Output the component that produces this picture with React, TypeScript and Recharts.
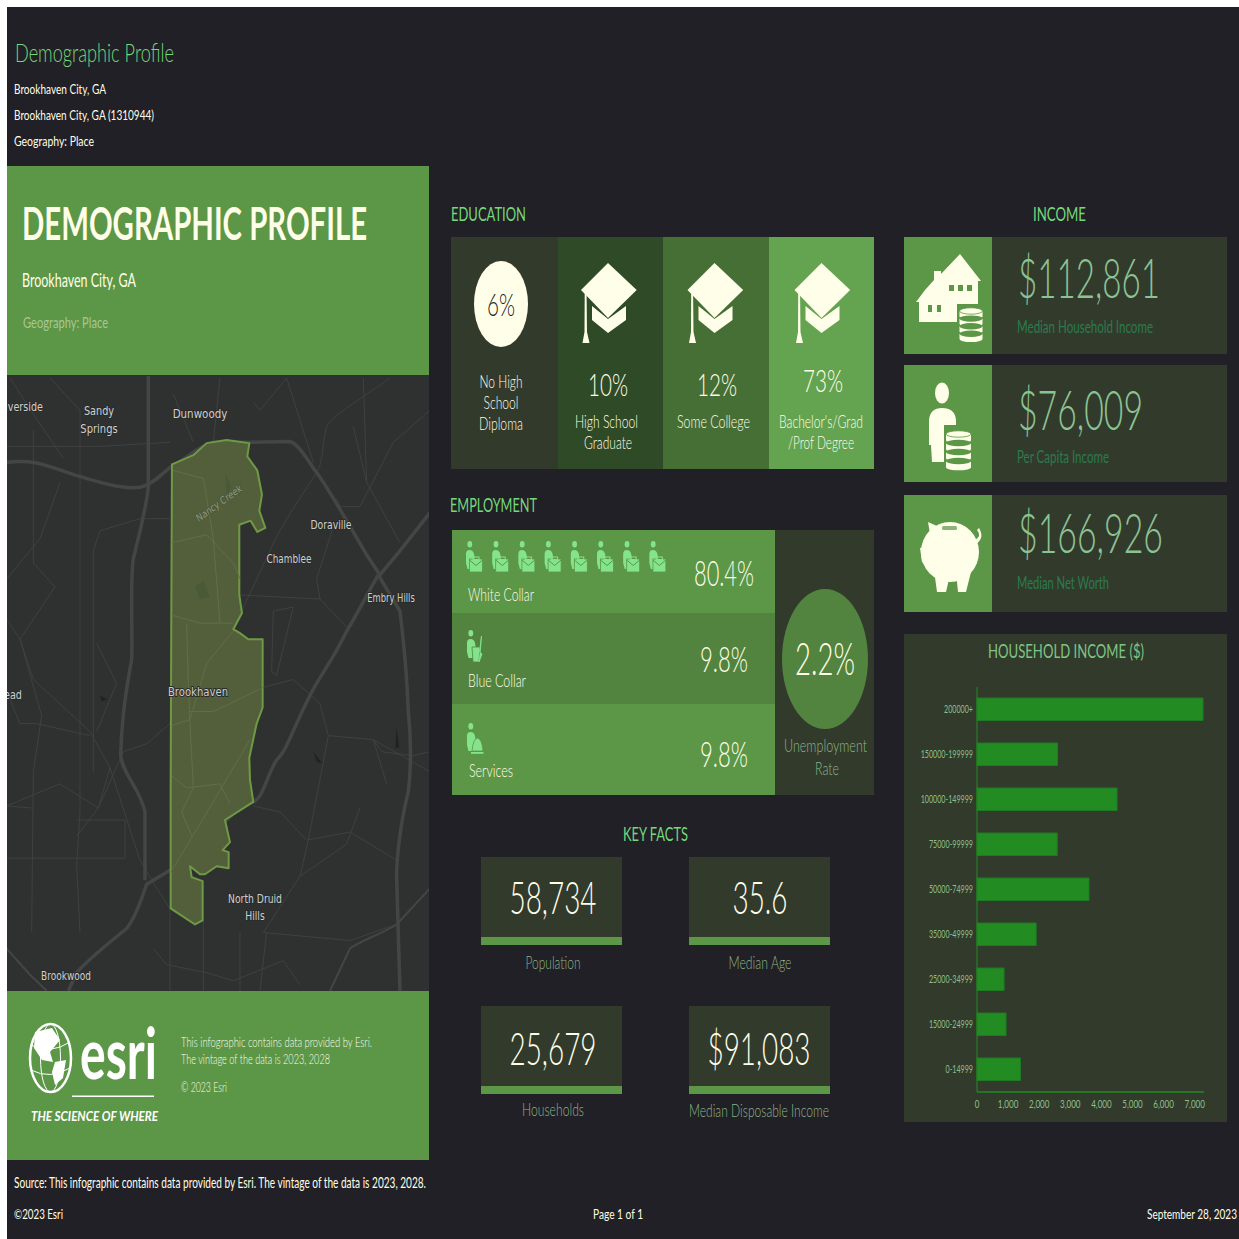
import React from 'react';
import { BarChart, Bar, XAxis, YAxis } from 'recharts';

const incomeBrackets = ['200000+', '150000-199999', '100000-149999', '75000-99999', '50000-74999', '35000-49999', '25000-34999', '15000-24999', '0-14999'];
const householdCounts = [7269, 2591, 4505, 2581, 3602, 1903, 871, 935, 1398];
const xTickValues = [0, 1000, 2000, 3000, 4000, 5000, 6000, 7000];

const educationPct = ['6%', '10%', '12%', '73%'];
const employmentPct = ['80.4%', '9.8%', '9.8%'];
const unemploymentPct = '2.2%';
const keyFactValues = ['58,734', '35.6', '25,679', '$91,083'];
const keyFactLabels = ['Population', 'Median Age', 'Households', 'Median Disposable Income'];
const incomeValues = ['$112,861', '$76,009', '$166,926'];
const incomeLabels = ['Median Household Income', 'Per Capita Income', 'Median Net Worth'];

const chartData = incomeBrackets.map((name, i) => ({ name, value: householdCounts[i] }));

const FONT = 'Lato, "Open Sans", sans-serif';
const BG = '#212026';
const PANEL = '#323a2c';
const GREEN = '#5c9647';
const CREAM = '#fffee8';
const TITLE = '#74d87c';
const MUTED = '#8db487';
const DEEP = '#2c7a4c';

const Txt = ({ x, y, w, size, fill = CREAM, anchor = 'start', weight, style, children }: any) => (
  <text x={x} y={y} fontSize={size} fill={fill} textAnchor={anchor} fontWeight={weight ?? (size < 17 ? 400 : 300)} fontFamily={FONT}
    textLength={w} lengthAdjust="spacingAndGlyphs" style={style}>{children}</text>
);

// map is traced in the zoomed crop's pixels, then scaled down
const mapMajor = [
  'M20,230 C100,222 130,235 220,260 C300,280 370,298 420,292 C460,285 490,255 515,240 C560,222 590,190 640,180 L750,180 L870,178 C900,185 930,235 950,255 C990,300 1050,390 1100,460 L1140,510 L1200,450 L1290,355',
  'M445,15 L445,290 C440,340 420,400 400,470 C390,520 398,650 395,720 C385,770 365,840 362,960 C370,1010 420,1040 435,1100 L435,1270',
  'M1135,510 C1100,560 1070,610 1040,650 C1000,720 960,760 930,810 C880,890 860,950 830,970 C800,1010 790,1065 760,1075 C720,1085 700,1105 680,1120 C620,1170 570,1210 520,1240 L440,1280 C420,1330 400,1370 380,1390 C320,1430 260,1470 230,1500 L205,1545',
  'M1135,510 L1200,600 C1215,700 1222,780 1225,850 C1235,930 1232,1000 1225,1050 C1200,1130 1190,1220 1190,1260 L1200,1545',
  'M1290,1290 L1190,1380 C1130,1410 1080,1420 1050,1440 L990,1545',
  'M20,1440 L90,1505 L140,1545',
];
const mapMinor = [
  'M1170,20 C1080,75 1000,110 980,140 C965,190 970,230 950,255 C900,320 840,390 810,450 L725,600',
  'M240,100 L240,1100 L230,1230 L240,1400',
  'M100,150 L100,480 L165,540 L60,670 L125,860 L100,1000 L95,1400',
  'M20,190 L300,190 L510,180',
  'M20,620 L60,670 L100,770 L270,900 L330,990 L295,1090 L180,1030 L20,1085',
  'M20,1085 L95,1090 M230,1120 L375,1120 L375,1215 L20,1215',
  'M510,880 L440,930 L370,950 L295,1090 L230,1160',
  'M280,1000 L280,450 L300,400 L420,370 L510,370',
  'M20,800 L60,880 L110,880 L270,910',
  'M330,990 L420,1220 L470,1290 L510,1340 L510,1545',
  'M790,790 L880,770 L960,830 L985,910 L1120,920 L1290,1000',
  'M985,910 L925,1170 L900,1260 L790,1400 L1050,1420 L1190,1380',
  'M760,1085 L840,1100 L920,1170 L1050,1150 L1190,1220',
  'M720,560 L960,570 L1040,640 M960,570 L950,520 L1000,390',
  'M1090,20 L1100,280 L1200,430 M1060,140 L1100,280',
  'M1080,1090 L1040,1180 L900,1260',
  'M1160,1030 L1120,920 L1145,950 L1240,960 L1290,950',
  'M720,1400 L720,1545 M800,1400 L780,1545 M610,1370 L610,1545',
  'M460,1440 L500,1480 L620,1500 L700,1520 L850,1470 L900,1530',
  'M30,20 L100,110 L190,220 M150,20 L240,100',
  'M760,80 L780,100 L860,20 M860,20 L940,230',
  'M1290,100 L1180,180 L1080,340 L1020,340 L1010,320',
  'M180,280 L120,420 L20,520 M290,680 L350,780 L290,900',
  'M820,600 L880,590 L830,760 L815,750 Z',
  'M520,60 L580,180 M660,20 L640,180',
];
const mapInCity = [
  'M515,430 L620,410 L700,480 L720,520 M515,610 L600,630 L700,630',
  'M520,250 L610,270 L640,420 L660,630',
  'M560,630 L565,780 L570,880 L580,1040 L545,1100 L575,1160',
  'M700,650 L620,730 L570,870 L515,885 M570,850 L640,850 L790,790',
  'M750,920 L600,1130 L512,1250',
  'M515,1010 L560,1040 L660,1030 L690,1080',
];

const BOARD = 'M608,263 L636.7,290 L608,318 L581,290 Z';
const CapIcon = ({ dx }: { dx: number }) => (
  <g transform={`translate(${dx},0)`} fill={CREAM}>
    <path d={BOARD} />
    <path d="M592,306 L608,319 L626,306 L626,320 L608,333 L592,320 Z" />
    <path d="M584.7,293 L586.6,295 L587,332 L589.5,343 L582.5,343 L584.5,332 Z" />
  </g>
);

const Coins = ({ cx, top, rx, count, gap, bg }: any) => (
  <g>
    {Array.from({ length: count }).map((_, i) => (
      <g key={i}>
        <path d={`M${cx - rx},${top + i * gap} L${cx - rx},${top + i * gap + gap * 0.7} A${rx},3 0 0 0 ${cx + rx},${top + i * gap + gap * 0.7} L${cx + rx},${top + i * gap} Z`} fill={CREAM} />
        <ellipse cx={cx} cy={top + i * gap} rx={rx} ry={3.2} fill={i === 0 ? CREAM : bg} stroke={i === 0 ? bg : 'none'} strokeWidth={0.8} />
      </g>
    ))}
  </g>
);

// person-with-something pictogram, light green
const Worker = ({ x, y, kind }: { x: number; y: number; kind: 'case' | 'mop' | 'bell' }) => (
  <g transform={`translate(${x},${y})`} fill="#84e48c">
    <ellipse cx={3.8} cy={3.2} rx={2.4} ry={3.2} />
    <path d="M0,13 Q0,9 3.5,9 Q7,9 8,13 L9,19 L8,28 L1.5,28 L0,22 Z" />
    {kind === 'case' && <g>
      <rect x={3.5} y={18} width={13} height={13} fill="#84e48c" stroke={GREEN} strokeWidth={0.8} />
      <path d="M3.5,19 L10,24.5 L16.5,19" fill="none" stroke={GREEN} strokeWidth={1} />
      <rect x={7} y={16} width={6} height={2.5} fill="none" stroke="#84e48c" />
    </g>}
    {kind === 'mop' && <g>
      <path d="M5,17 L13,17 L12,32 L6,32 Z" stroke="#52843f" strokeWidth={0.8} />
      <path d="M14.5,6 L12.5,22 L15,24 L12,32 L13,24 Z" stroke="#84e48c" strokeWidth={0.8} />
    </g>}
    {kind === 'bell' && <g>
      <path d="M5,28 Q6,16 10.5,15 Q15,16 16,28 Z" stroke={GREEN} strokeWidth={0.8} />
      <rect x={4} y={29} width={12.5} height={1.8} />
    </g>}
  </g>
);

const CategoryTick = ({ x, y, payload }: any) => (
  <text transform={`translate(${x + 4},${y + 3.5}) scale(0.65,1)`} textAnchor="end" fontSize={11} fill="#8dbf87" fontFamily={FONT}>{payload.value}</text>
);
const ValueTick = ({ x, y, payload }: any) => (
  <text transform={`translate(${x},${y + 8}) scale(0.7,1)`} textAnchor="middle" fontSize={11.5} fill="#8dbf87" fontFamily={FONT}>{payload.value.toLocaleString('en-US')}</text>
);

const App = () => {
  const capOffsets = [0, 106.5, 213.5];
  const eduCentres = [501, 608, 717, 823];
  const factCentres = [553, 760, 553, 759];
  const factWidths = [87, 55, 87, 103];
  const factBase = [914, 914, 1065, 1065];
  const factLabelBase = [969, 969, 1116, 1117];
  const factLabelW = [55, 63, 62, 140];
  const incomeBase = [298, 430, 553];
  const incomeW = [142, 125, 145];
  const labelBase = [333, 463, 589];
  const labelW = [136, 92, 92];
  const incomeTop = [237, 365, 495];

  return (
    <div style={{ position: 'absolute', left: 0, top: 0, width: 1239, height: 1239, background: '#fff', overflow: 'hidden' }}>
      <svg width={1239} height={1239} style={{ position: 'absolute', left: 0, top: 0 }}>
        <rect x={7} y={7} width={1232} height={1232} fill={BG} />

        {/* header */}
        <Txt x={15} y={62} w={159} size={26} fill={TITLE}>Demographic Profile</Txt>
        <Txt x={14} y={94} w={92} size={14}>Brookhaven City, GA</Txt>
        <Txt x={14} y={120} w={140} size={14}>Brookhaven City, GA (1310944)</Txt>
        <Txt x={14} y={146} w={80} size={14}>Geography: Place</Txt>

        {/* left banner */}
        <rect x={7} y={166} width={422} height={209} fill={GREEN} />
        <Txt x={22} y={240} w={345} size={46} weight={700}>DEMOGRAPHIC PROFILE</Txt>
        <Txt x={22} y={287} w={114} size={19} weight={400}>Brookhaven City, GA</Txt>
        <Txt x={23} y={328} w={85} size={15} fill="#a9c795">Geography: Place</Txt>

        {/* map */}
        <defs><clipPath id="mapClip"><rect x={7} y={375} width={422} height={616} /></clipPath></defs>
        <rect x={7} y={375} width={422} height={616} fill="#2f3131" />
        <g clipPath="url(#mapClip)">
          <g transform="translate(0,370) scale(0.3333,0.4018)" fill="none" strokeLinejoin="round">
            {mapMinor.map((d, i) => <path key={i} d={d} stroke="#3f4141" strokeWidth={1} vectorEffect="non-scaling-stroke" />)}
            {mapMajor.map((d, i) => <path key={i} d={d} stroke="#444646" strokeWidth={i < 4 ? 3.5 : 2} vectorEffect="non-scaling-stroke" />)}
            <path d="M516,235 L580,212 L620,182 L680,174 L748,182 L742,215 L772,250 L786,310 L778,350 L796,393 L772,403 L752,375 L718,385 L718,560 L726,605 L700,645 L720,655 L745,670 L788,670 L788,840 L770,880 L748,965 L750,1020 L760,1075 L675,1120 L690,1175 L668,1195 L686,1200 L686,1240 L650,1235 L615,1255 L600,1255 L570,1235 L575,1262 L608,1272 L608,1370 L585,1380 L512,1340 L512,1060 L514,600 Z"
              fill="#535f3b" stroke="#6f9a45" strokeWidth={2} vectorEffect="non-scaling-stroke" />
            {mapInCity.map((d, i) => <path key={i} d={d} stroke="#626d4a" strokeWidth={1} vectorEffect="non-scaling-stroke" />)}
            <path d="M585,540 L610,525 L630,565 L600,570 Z M675,255 L695,290 L680,310 Z" fill="#4a5a38" />
            <path d="M300,810 L322,820 L305,825 Z M940,950 L968,980 L950,975 Z M1190,890 L1198,940 L1186,940 Z" fill="#1e2426" />
          </g>
          <g fontFamily='"DejaVu Sans", sans-serif' fontSize={12} fill="#cfd0cc" textAnchor="middle" style={{ paintOrder: 'stroke' }} stroke="#2a2b2b" strokeWidth={2}>
            <text transform="translate(99,415) scale(0.81,1)">Sandy</text>
            <text transform="translate(99,433) scale(0.83,1)">Springs</text>
            <text transform="translate(200,418) scale(0.86,1)">Dunwoody</text>
            <text transform="translate(331,529) scale(0.77,1)">Doraville</text>
            <text transform="translate(289,563) scale(0.74,1)">Chamblee</text>
            <text transform="translate(391,602) scale(0.7,1)">Embry Hills</text>
            <text transform="translate(198,696) scale(0.84,1)">Brookhaven</text>
            <text transform="translate(255,903) scale(0.77,1)">North Druid</text>
            <text transform="translate(255,920) scale(0.77,1)">Hills</text>
            <text transform="translate(66,980) scale(0.75,1)">Brookwood</text>
            <text transform="translate(24,411) scale(0.8,1)">iverside</text>
            <text transform="translate(13,699) scale(0.8,1)">ead</text>
            <text transform="translate(221,506) rotate(-36) scale(0.85,1)" fontStyle="italic" fontSize={10} fill="#8f9a80" stroke="#4b5538" strokeWidth={1.5}>Nancy Creek</text>
          </g>
        </g>

        {/* esri panel */}
        <rect x={7} y={991} width={422} height={169} fill={GREEN} />
        <g stroke="#fff" fill="none">
          <ellipse cx={50.5} cy={1058} rx={20.5} ry={34} strokeWidth={2.5} />
          <ellipse cx={50.5} cy={1058} rx={10} ry={34} strokeWidth={1} />
          <path d="M31,1045 Q50,1055 70,1042 M31,1070 Q50,1080 70,1068" strokeWidth={1} />
        </g>
        <path d="M35,1032 L52,1028 L60,1040 L50,1052 L53,1062 L42,1060 L34,1048 Z M55,1062 L66,1060 L63,1078 L55,1085 L52,1072 Z" fill="#fff" />
        <Txt x={80} y={1079} w={77} size={70} weight={700} fill="#fff">esri</Txt>
        <rect x={72} y={1095.5} width={82} height={1.5} fill="#fff" />
        <Txt x={31} y={1121} w={127} size={14} weight={700} fill="#fff" style={{ fontStyle: 'italic' }}>THE SCIENCE OF WHERE</Txt>
        <Txt x={181} y={1047} w={191} size={13.5} weight={300}>This infographic contains data provided by Esri.</Txt>
        <Txt x={181} y={1064} w={149} size={13.5} weight={300}>The vintage of the data is 2023, 2028</Txt>
        <Txt x={181} y={1092} w={46} size={13.5} weight={300}>© 2023 Esri</Txt>

        {/* footer */}
        <Txt x={14} y={1188} w={412} size={15}>Source: This infographic contains data provided by Esri. The vintage of the data is 2023, 2028.</Txt>
        <Txt x={14} y={1219} w={49} size={14}>©2023 Esri</Txt>
        <Txt x={593} y={1219} w={50} size={14}>Page 1 of 1</Txt>
        <Txt x={1147} y={1219} w={90} size={14}>September 28, 2023</Txt>

        {/* education */}
        <Txt x={451} y={221} w={75} size={20} fill={TITLE} weight={400}>EDUCATION</Txt>
        <rect x={451} y={237} width={107} height={232} fill={PANEL} />
        <rect x={558} y={237} width={105} height={232} fill="#2f4a27" />
        <rect x={663} y={237} width={106} height={232} fill="#466f36" />
        <rect x={769} y={237} width={105} height={232} fill="#64a34f" />
        <ellipse cx={501} cy={304} rx={27} ry={43} fill={CREAM} />
        <Txt x={501} y={316} w={28} size={32} fill="#22252a" anchor="middle">{educationPct[0]}</Txt>
        {capOffsets.map((dx) => <CapIcon key={dx} dx={dx} />)}
        <Txt x={501} y={388} w={43} size={18} anchor="middle">No High</Txt>
        <Txt x={501} y={409} w={35} size={18} anchor="middle">School</Txt>
        <Txt x={501} y={430} w={44} size={18} anchor="middle">Diploma</Txt>
        <Txt x={eduCentres[1]} y={396} w={40} size={32} anchor="middle">{educationPct[1]}</Txt>
        <Txt x={eduCentres[2]} y={396} w={40} size={32} anchor="middle">{educationPct[2]}</Txt>
        <Txt x={eduCentres[3]} y={392} w={40} size={32} anchor="middle">{educationPct[3]}</Txt>
        <Txt x={575} y={428} w={63} size={18}>High School</Txt>
        <Txt x={584} y={449} w={48} size={18}>Graduate</Txt>
        <Txt x={677} y={428} w={73} size={18}>Some College</Txt>
        <Txt x={779} y={428} w={84} size={18}>Bachelor's/Grad</Txt>
        <Txt x={788} y={449} w={66} size={18}>/Prof Degree</Txt>

        {/* employment */}
        <Txt x={450} y={512} w={87} size={20} fill={TITLE} weight={400}>EMPLOYMENT</Txt>
        <rect x={452} y={530} width={323} height={83} fill={GREEN} />
        <rect x={452} y={613} width={323} height={91} fill="#52843f" />
        <rect x={452} y={704} width={323} height={91} fill={GREEN} />
        <rect x={775} y={530} width={99} height={265} fill={PANEL} />
        {[0, 1, 2, 3, 4, 5, 6, 7].map((i) => <Worker key={i} x={466 + i * 26.2} y={541} kind="case" />)}
        <Worker x={467} y={630} kind="mop" />
        <Worker x={467} y={723} kind="bell" />
        <Txt x={468} y={601} w={66} size={18}>White Collar</Txt>
        <Txt x={468} y={687} w={58} size={18}>Blue Collar</Txt>
        <Txt x={469} y={777} w={44} size={18}>Services</Txt>
        <Txt x={694} y={586} w={60} size={35}>{employmentPct[0]}</Txt>
        <Txt x={700} y={672} w={48} size={35}>{employmentPct[1]}</Txt>
        <Txt x={700} y={767} w={48} size={35}>{employmentPct[2]}</Txt>
        <ellipse cx={825} cy={659} rx={43} ry={70} fill="#52843f" />
        <Txt x={825} y={675} w={60} size={45} anchor="middle">{unemploymentPct}</Txt>
        <Txt x={825.5} y={752} w={83} size={18} fill={MUTED} anchor="middle">Unemployment</Txt>
        <Txt x={827} y={775} w={24} size={18} fill={MUTED} anchor="middle">Rate</Txt>

        {/* key facts */}
        <Txt x={655.5} y={841} w={65} size={20} fill={TITLE} anchor="middle" weight={400}>KEY FACTS</Txt>
        {[[481, 857], [689, 857], [481, 1006], [689, 1006]].map(([x, y], i) => (
          <g key={i}>
            <rect x={x} y={y} width={141} height={88} fill={PANEL} />
            <rect x={x} y={y + 80} width={141} height={8} fill={GREEN} />
            <Txt x={factCentres[i]} y={factBase[i]} w={factWidths[i]} size={46} anchor="middle">{keyFactValues[i]}</Txt>
            <Txt x={factCentres[i]} y={factLabelBase[i]} w={factLabelW[i]} size={18} fill={MUTED} anchor="middle">{keyFactLabels[i]}</Txt>
          </g>
        ))}

        {/* income */}
        <Txt x={1059.5} y={221} w={53} size={20} fill={TITLE} anchor="middle" weight={400}>INCOME</Txt>
        {incomeTop.map((top, i) => (
          <g key={i}>
            <rect x={904} y={top} width={323} height={117} fill={PANEL} />
            <rect x={904} y={top} width={88} height={117} fill={GREEN} />
            <Txt x={1018} y={incomeBase[i]} w={incomeW[i]} size={55} fill="#8cc394">{incomeValues[i]}</Txt>
            <Txt x={1017} y={labelBase[i]} w={labelW[i]} size={17} fill={DEEP} weight={400}>{incomeLabels[i]}</Txt>
          </g>
        ))}
        {/* house */}
        <path d="M916,302 L925,290 L934,280 L934,271 L941,271 L941,274 L960,254 L981,281 L978,281 L978,322 L919,322 L919,302 Z" fill={CREAM} />
        <g fill={GREEN}>
          <rect x={949} y={285} width={5} height={6} /><rect x={958} y={285} width={5} height={6} /><rect x={967} y={285} width={5} height={6} />
          <rect x={928} y={305} width={4} height={7} /><rect x={937} y={305} width={4} height={7} />
          <rect x={957} y={304} width={28} height={40} />
        </g>
        <Coins cx={971} top={311} rx={11.5} count={4} gap={7.6} bg={GREEN} />
        {/* person */}
        <ellipse cx={942} cy={393} rx={7} ry={10.5} fill={CREAM} />
        <path d="M929,420 Q930,408 942,408 Q955,408 956,420 L956,462 L932,462 L931,445 L929,445 Z" fill={CREAM} />
        <rect x={944} y={425} width={30} height={46} fill={GREEN} />
        <Coins cx={958.5} top={434} rx={12.5} count={4} gap={9} bg={GREEN} />
        {/* piggy */}
        <g fill={CREAM}>
          <ellipse cx={950} cy={552} rx={29} ry={30} />
          <path d="M928,522 L946,530 L932,545 Z" />
          <path d="M920,548 L930,545 L930,568 L922,562 Z" />
          <path d="M934,570 L950,575 L946,592 L937,592 Z M956,572 L974,560 L966,592 L958,592 Z" />
          <path d="M975,540 Q982,536 977,530 L979,528 Q985,538 976,544 Z" />
        </g>
        <rect x={942} y={526} width={15} height={4} rx={1.5} fill="#8fb27a" />

        {/* chart panel */}
        <rect x={904} y={634} width={323} height={488} fill={PANEL} />
        <Txt x={988} y={658} w={156} size={20} fill="#7ec584" weight={400}>HOUSEHOLD INCOME ($)</Txt>
      </svg>

      <div style={{ position: 'absolute', left: 904, top: 634 }}>
        <BarChart width={323} height={488} data={chartData} layout="vertical" barSize={22.5}
          margin={{ top: 53, right: 23, bottom: 0, left: 0 }}>
          <XAxis type="number" domain={[0, 7300]} ticks={xTickValues} interval={0} height={30}
            axisLine={{ stroke: '#228B22', strokeWidth: 1.5 }} tickLine={false} tick={<ValueTick />} />
          <YAxis type="category" dataKey="name" width={73} interval={0}
            axisLine={{ stroke: '#228B22', strokeWidth: 1 }} tickLine={false} tick={<CategoryTick />} />
          <Bar dataKey="value" fill="#228B22" stroke="#1f7a25" strokeWidth={1} isAnimationActive={false} />
        </BarChart>
      </div>
    </div>
  );
};

export default App;
